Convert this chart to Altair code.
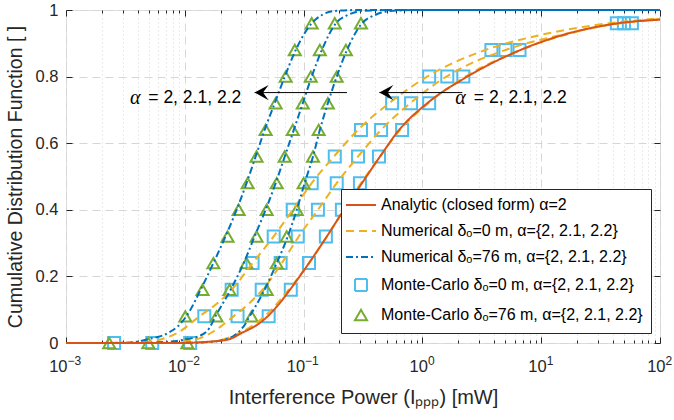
import altair as alt
import pandas as pd

# ---------------- data ----------------
SERIES = [
    "Analytic (closed form) α=2",
    "Numerical  δₒ=0 m, α={2, 2.1, 2.2}",
    "Numerical  δₒ=76 m, α={2, 2.1, 2.2}",
    "Monte-Carlo δₒ=0 m, α={2, 2.1, 2.2}",
    "Monte-Carlo δₒ=76 m, α={2, 2.1, 2.2}",
]
COLORS = ["#D95319", "#EDB120", "#0072BD", "#4DBEEE", "#77AC30"]
ALPHAS = ["2.2", "2.1", "2"]

# CDF levels of the Monte-Carlo markers
LEVELS = [0.0, 0.08, 0.16, 0.24, 0.32, 0.40, 0.48, 0.56, 0.64, 0.72, 0.80, 0.88, 0.96]

# Monte-Carlo, delta_o = 0 m (squares): interference power [mW] at each level
MC_D0 = {
    "2.2": [0.00254, 0.0146, 0.0248, 0.0372, 0.056, 0.0811, 0.117, 0.183, 0.304, 0.556, 1.14, 3.81, 43.3],
    "2.1": [0.00532, 0.0278, 0.0444, 0.0641, 0.0893, 0.132, 0.19, 0.287, 0.449, 0.803, 1.62, 5.0, 49.7],
    "2":   [0.0111, 0.0508, 0.078, 0.111, 0.154, 0.21, 0.298, 0.431, 0.675, 1.14, 2.21, 6.57, 58.0],
}
# Monte-Carlo, delta_o = 76 m (triangles)
MC_D76 = {
    "2.2": [0.00231, 0.0101, 0.0141, 0.0174, 0.0229, 0.0284, 0.0338, 0.0402, 0.0479, 0.0582, 0.0707, 0.0843, 0.117],
    "2.1": [0.00493, 0.0185, 0.0238, 0.0331, 0.0402, 0.0489, 0.0594, 0.0693, 0.0811, 0.0984, 0.115, 0.137, 0.183],
    "2":   [0.0105, 0.0365, 0.0489, 0.0594, 0.0721, 0.0876, 0.1, 0.12, 0.134, 0.16, 0.19, 0.227, 0.304],
}

# Analytic closed form, alpha = 2
AN_X = [0.001, 0.009, 0.0146, 0.0229, 0.0301, 0.0427, 0.0498, 0.063, 0.0768, 0.111, 0.157, 0.2185,
        0.31, 0.44, 0.637, 1.098, 2.39, 6.7, 18.8, 44.2, 100.0]
AN_Y = [0.0, 0.0002, 0.003, 0.01, 0.03, 0.06, 0.08, 0.12, 0.16, 0.24, 0.32, 0.40,
        0.48, 0.56, 0.64, 0.72, 0.80, 0.88, 0.934, 0.96, 0.971]

# Numerical, delta_o = 0 m
NUM_D0_X = {
    "2.2": [0.001, 0.0034, 0.00502, 0.00647, 0.009, 0.0133, 0.0189, 0.0248, 0.0372, 0.056, 0.0811,
            0.117, 0.18, 0.287, 0.524, 1.098, 3.39, 9.89, 28.8, 100.0],
    "2.1": [0.001, 0.00673, 0.00992, 0.0133, 0.0171, 0.0257, 0.0358, 0.0452, 0.0655, 0.0911, 0.132,
            0.19, 0.287, 0.449, 0.789, 1.589, 5.0, 14.6, 37.1, 100.0],
    "2":   [0.001, 0.0109, 0.0178, 0.0289, 0.047, 0.075, 0.111, 0.157, 0.2185, 0.304, 0.44, 0.649,
            1.12, 2.3, 6.7, 19.5, 45.0, 100.0],
}
NUM_D0_Y = {
    "2.2": [0.0, 0.0005, 0.004, 0.012, 0.034, 0.08, 0.12, 0.16, 0.24, 0.32, 0.40,
            0.48, 0.56, 0.64, 0.72, 0.80, 0.88, 0.925, 0.955, 0.975],
    "2.1": [0.0, 0.0005, 0.005, 0.014, 0.033, 0.08, 0.123, 0.16, 0.24, 0.32, 0.40,
            0.48, 0.56, 0.64, 0.72, 0.80, 0.88, 0.925, 0.955, 0.973],
    "2":   [0.0, 0.0003, 0.005, 0.03, 0.08, 0.16, 0.24, 0.32, 0.40, 0.48, 0.56, 0.64,
            0.72, 0.80, 0.88, 0.934, 0.96, 0.971],
}

# Numerical, delta_o = 76 m
NUM_D76_X = {
    "2.2": [0.001, 0.0028, 0.00375, 0.00483, 0.00713, 0.00866, 0.0103, 0.0136, 0.0174, 0.022, 0.0273,
            0.0331, 0.0395, 0.047, 0.0571, 0.0694, 0.0859, 0.117, 0.1425, 0.183, 0.298, 100.0],
    "2.1": [0.001, 0.00502, 0.00673, 0.00954, 0.0138, 0.0161, 0.0181, 0.0243, 0.0313, 0.0387, 0.0479,
            0.0582, 0.0694, 0.0827, 0.0984, 0.117, 0.1425, 0.187, 0.236, 0.31, 0.535, 100.0],
    "2":   [0.001, 0.0109, 0.0161, 0.0204, 0.0278, 0.0313, 0.0351, 0.047, 0.0594, 0.0736, 0.0876,
            0.102, 0.12, 0.137, 0.16, 0.19, 0.232, 0.31, 0.40, 0.535, 0.958, 100.0],
}
NUM_D76_Y = {
    "2.2": [0.0, 0.0005, 0.003, 0.011, 0.029, 0.049, 0.08, 0.16, 0.24, 0.32, 0.40,
            0.48, 0.56, 0.64, 0.72, 0.80, 0.88, 0.96, 0.985, 0.997, 1.0, 1.0],
    "2.1": [0.0, 0.0005, 0.003, 0.009, 0.024, 0.045, 0.08, 0.16, 0.24, 0.32, 0.40,
            0.48, 0.56, 0.64, 0.72, 0.80, 0.88, 0.96, 0.985, 0.997, 1.0, 1.0],
    "2":   [0.0, 0.0005, 0.003, 0.008, 0.03, 0.05, 0.08, 0.16, 0.24, 0.32, 0.40,
            0.48, 0.56, 0.64, 0.72, 0.80, 0.88, 0.96, 0.985, 0.997, 1.0, 1.0],
}

# axis ticks
X_MAJOR = [0.001, 0.01, 0.1, 1.0, 10.0, 100.0]
X_MINOR = [m * d for d in [0.001, 0.01, 0.1, 1.0, 10.0] for m in range(2, 10)]
Y_TICKS = [0.0, 0.2, 0.4, 0.6, 0.8, 1.0]

# annotations: "alpha = 2, 2.1, 2.2" with arrows
ANN_ALPHA_X = [0.00383, 2.09]
ANN_REST_X = [0.00493, 2.71]
ANN_TEXT_Y = [0.736, 0.736]
ANN_REST = ["= 2, 2.1, 2.2", "= 2, 2.1, 2.2"]
ARROW_TAIL_X = [0.2317, 2.17]
ARROW_TIP_X = [0.0387, 0.434]
ARROW_Y = [0.752, 0.752]

# ---------------- tables ----------------
pts_rows = []
for a in ALPHAS:
    for lv, xv in zip(LEVELS, MC_D0[a]):
        pts_rows.append({"x": xv, "y": lv, "series": SERIES[3], "alpha": a})
for a in ALPHAS:
    for lv, xv in zip(LEVELS, MC_D76[a]):
        pts_rows.append({"x": xv, "y": lv, "series": SERIES[4], "alpha": a})
df_pts = pd.DataFrame(pts_rows)

def curve_df(xs, ys, series):
    rows = []
    for a in ALPHAS:
        for i, (xv, yv) in enumerate(zip(xs[a], ys[a])):
            rows.append({"x": xv, "y": yv, "series": series, "alpha": a, "i": i})
    return pd.DataFrame(rows)

df_yel = curve_df(NUM_D0_X, NUM_D0_Y, SERIES[1])
df_blu = curve_df(NUM_D76_X, NUM_D76_Y, SERIES[2])
df_an = pd.DataFrame({"x": AN_X, "y": AN_Y, "series": SERIES[0], "alpha": "2", "i": range(len(AN_X))})

df_alpha = pd.DataFrame({"x": ANN_ALPHA_X, "y": ANN_TEXT_Y, "t": ["α", "α"]})
df_rest = pd.DataFrame({"x": ANN_REST_X, "y": ANN_TEXT_Y, "t": ANN_REST})
df_arrow = pd.DataFrame({"x": ARROW_TIP_X, "x2": ARROW_TAIL_X, "y": ARROW_Y})

# ---------------- styling ----------------
W, H = 594, 333
FONT = "Liberation Sans"
AXC = "#262626"
MAJ = "abs(log(datum.value)/LN10 - round(log(datum.value)/LN10)) < 0.01"
EXP = "round(log(datum.value)/LN10)"

xscale = alt.Scale(type="log", domain=[1e-3, 1e2], nice=False)
yscale = alt.Scale(domain=[0, 1], nice=False, zero=False)

LINE_PATH = "M-2.5,0L2.5,0"
LEG = alt.Legend(
    title=None, orient="none", legendX=275, legendY=179,
    labelFont=FONT, labelFontSize=16, labelColor="#000000", labelLimit=500,
    strokeColor=AXC, fillColor="white", padding=8, rowPadding=10,
    symbolStrokeWidth=2, symbolOffset=4, labelOffset=12,
)
color_enc = alt.Color("series:N", scale=alt.Scale(domain=SERIES, range=COLORS), legend=LEG)
dash_enc = alt.StrokeDash("series:N", scale=alt.Scale(domain=SERIES, range=[[1, 0], [8, 5], [7, 3, 2, 3], [1, 0], [1, 0]]), legend=LEG)
shape_enc = alt.Shape("series:N", scale=alt.Scale(domain=SERIES, range=[LINE_PATH, LINE_PATH, LINE_PATH, "square", "triangle-up"]), legend=LEG)
size_enc = alt.Size("series:N", scale=alt.Scale(domain=SERIES, range=[144, 144, 144, 64, 120]), legend=LEG)

AX_X_MAIN = alt.Axis(
    orient="bottom", values=X_MAJOR + X_MINOR, labelExpr=MAJ + " ? '10' : ''",
    grid=True, gridColor="#d6d6d6",
    gridDash={"condition": {"test": MAJ, "value": [8, 5]}, "value": [1, 3]},
    ticks=False, tickSize=0, domain=False,
    labelFont=FONT, labelFontSize=16.5, labelColor=AXC, labelAlign="right",
    labelOffset={"condition": {"test": "datum.value < 0.9", "value": 1}, "value": 5},
    labelPadding=15, labelOverlap=False, labelFlush=False, labelBaseline="top",
    title="Interference Power (Iₚₚₚ) [mW]", titleFont=FONT, titleFontSize=20,
    titleFontWeight="normal", titleColor=AXC, titlePadding=13,
)
AX_X_EXP = alt.Axis(
    orient="bottom", values=X_MAJOR,
    labelExpr=MAJ + " ? (" + EXP + " < 0 ? '\u2212' + abs(" + EXP + ") : '' + " + EXP + ") : ''",
    grid=False, ticks=False, tickSize=0, domain=False,
    labelFont=FONT, labelFontSize=12, labelColor=AXC, labelAlign="left",
    labelOffset={"condition": {"test": "datum.value < 0.9", "value": 1}, "value": 5},
    labelPadding=12, labelOverlap=False, labelFlush=False, labelBaseline="top", title=None,
)
# inward ticks (MATLAB style): axes flipped to the opposite side of the frame
AX_X_TICK_BOTTOM = alt.Axis(
    orient="top", offset=-H, values=X_MAJOR + X_MINOR, labels=False, grid=False, domain=False,
    tickSize={"condition": {"test": MAJ, "value": 6}, "value": 3}, tickColor=AXC, tickWidth=1, title=None,
)
AX_X_TICK_TOP = alt.Axis(
    orient="bottom", offset=-H, values=X_MAJOR + X_MINOR, labels=False, grid=False, domain=False,
    tickSize={"condition": {"test": MAJ, "value": 6}, "value": 3}, tickColor=AXC, tickWidth=1, title=None,
)
AX_Y_MAIN = alt.Axis(
    orient="left", values=Y_TICKS, format="~g", grid=True, gridColor="#d6d6d6", gridDash=[8, 5],
    ticks=False, tickSize=0, domain=False,
    labelFont=FONT, labelFontSize=16.5, labelColor=AXC, labelPadding=8,
    title="Cumulative Distribution Function  [ ]", titleFont=FONT, titleFontSize=19.5,
    titleFontWeight="normal", titleColor=AXC, titlePadding=10,
)
AX_Y_TICK_LEFT = alt.Axis(
    orient="right", offset=-W, values=Y_TICKS, labels=False, grid=False, domain=False,
    tickSize=6, tickColor=AXC, tickWidth=1, title=None,
)
AX_Y_TICK_RIGHT = alt.Axis(
    orient="left", offset=-W, values=Y_TICKS, labels=False, grid=False, domain=False,
    tickSize=6, tickColor=AXC, tickWidth=1, title=None,
)

pts = alt.Chart(df_pts).mark_point(filled=False, strokeWidth=2, opacity=1).encode(
    x=alt.X("x:Q", scale=xscale, axis=None),
    y=alt.Y("y:Q", scale=yscale, axis=None),
    color=color_enc, shape=shape_enc, size=size_enc,
)
yel = alt.Chart(df_yel).mark_line(strokeWidth=2, interpolate="monotone").encode(
    x=alt.X("x:Q", scale=xscale, axis=AX_X_MAIN),
    y=alt.Y("y:Q", scale=yscale, axis=AX_Y_MAIN),
    color=color_enc, strokeDash=dash_enc, detail="alpha:N", order="i:Q",
)
blu = alt.Chart(df_blu).mark_line(strokeWidth=2, interpolate="monotone").encode(
    x=alt.X("x:Q", scale=xscale, axis=AX_X_EXP),
    y=alt.Y("y:Q", scale=yscale, axis=AX_Y_TICK_LEFT),
    color=color_enc, strokeDash=dash_enc, detail="alpha:N", order="i:Q",
)
ana = alt.Chart(df_an).mark_line(strokeWidth=2, interpolate="monotone").encode(
    x=alt.X("x:Q", scale=xscale, axis=AX_X_TICK_BOTTOM),
    y=alt.Y("y:Q", scale=yscale, axis=AX_Y_TICK_RIGHT),
    color=color_enc, strokeDash=dash_enc, order="i:Q",
)
alpha_txt = alt.Chart(df_alpha).mark_text(
    font="Liberation Serif", fontStyle="italic", fontSize=20, align="center", baseline="middle", color="#000"
).encode(
    x=alt.X("x:Q", scale=xscale, axis=AX_X_TICK_TOP),
    y=alt.Y("y:Q", scale=yscale, axis=None),
    text="t:N",
)
rest_txt = alt.Chart(df_rest).mark_text(
    font=FONT, fontSize=17.5, align="left", baseline="middle", color="#000"
).encode(
    x=alt.X("x:Q", scale=xscale, axis=None),
    y=alt.Y("y:Q", scale=yscale, axis=None),
    text="t:N",
)
arrow_line = alt.Chart(df_arrow).mark_rule(color="#000", strokeWidth=1).encode(
    x=alt.X("x:Q", scale=xscale, axis=None),
    x2="x2:Q",
    y=alt.Y("y:Q", scale=yscale, axis=None),
)
arrow_head = alt.Chart(df_arrow).mark_point(
    shape="M0,0L2,-1.1L1.2,0L2,1.1Z", filled=True, color="#000", size=196, opacity=1
).encode(
    x=alt.X("x:Q", scale=xscale, axis=None),
    y=alt.Y("y:Q", scale=yscale, axis=None),
)

chart = alt.layer(
    pts, yel, blu, ana, alpha_txt, rest_txt, arrow_line, arrow_head
).resolve_axis(x="independent", y="independent").properties(
    width=W, height=H, autosize="none",
    padding={"left": 66, "top": 10, "right": 14, "bottom": 77},
).configure_view(stroke=AXC, strokeWidth=1).configure(background="white")

chart.save("out.html", embed_options={"renderer": "svg", "actions": False})
